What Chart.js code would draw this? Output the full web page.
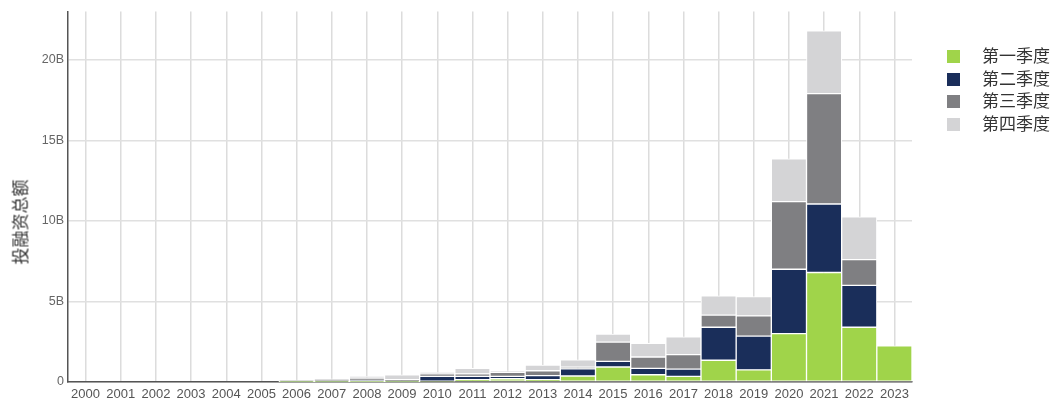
<!DOCTYPE html>
<html>
<head>
    <meta charset="utf-8" />
    <title>投融资总额</title>
    <style>
        body { margin: 0; background: #fff; font-family: "Liberation Sans", Arial, sans-serif; }
        #wrap { position: relative; width: 1053px; height: 403px; }
        #legend { position: absolute; left: 947px; top: 44px; font-family: "Noto Sans CJK SC", sans-serif; font-size: 17px; color: #333; }
        #legend div { height: 22.5px; line-height: 22.5px; white-space: nowrap; }
        #legend span { display: inline-block; width: 13px; height: 13px; margin-right: 22px; vertical-align: -1px; }
        #ytitle { position: absolute; left: 19px; top: 222px; transform: translate(-50%, -50%) rotate(-90deg);
            font-family: "Noto Sans CJK SC", sans-serif; font-size: 17px; color: #333; white-space: nowrap; }
    </style>
</head>
<body>
    <div id="wrap">
        <canvas id="chart" width="1053" height="403"></canvas>
        <div id="ytitle">投融资总额</div>
        <div id="legend"></div>
    </div>

    <script src="https://cdn.jsdelivr.net/npm/chart.js"></script>
    <script type="text/javascript">
        // valores en miles de millones (B)
        var years = ['2000', '2001', '2002', '2003', '2004', '2005', '2006', '2007', '2008', '2009', '2010', '2011',
            '2012', '2013', '2014', '2015', '2016', '2017', '2018', '2019', '2020', '2021', '2022', '2023'];
        var q1 = [0, 0, 0, 0, 0, 0, 0.01, 0.02, 0.02, 0.02, 0.05, 0.15, 0.2, 0.15, 0.37, 0.93, 0.45, 0.35, 1.35, 0.75, 3.0, 6.8, 3.4, 2.25];
        var q2 = [0, 0, 0, 0, 0, 0, 0.02, 0.03, 0.08, 0.03, 0.3, 0.2, 0.15, 0.25, 0.45, 0.35, 0.4, 0.45, 2.05, 2.1, 4.0, 4.25, 2.6, 0];
        var q3 = [0, 0, 0, 0, 0, 0, 0.04, 0.05, 0.15, 0.1, 0.15, 0.15, 0.25, 0.3, 0.1, 1.2, 0.7, 0.9, 0.75, 1.25, 4.2, 6.85, 1.6, 0];
        var q4 = [0, 0, 0, 0, 0, 0, 0.05, 0.1, 0.1, 0.3, 0.1, 0.35, 0.1, 0.35, 0.45, 0.5, 0.85, 1.1, 1.2, 1.2, 2.65, 3.9, 2.65, 0];
        var seriesNames = ['第一季度', '第二季度', '第三季度', '第四季度'];
        var seriesColors = ['#a0d44a', '#1a2e5a', '#7f7f82', '#d4d4d6'];
        var yTicks = [0, 5, 10, 15, 20];

        var seriesData = [q1, q2, q3, q4];
        var datasets = seriesData.map(function (d, i) {
            return {
                label: seriesNames[i],
                data: d,
                backgroundColor: seriesColors[i],
                borderColor: '#ffffff',
                borderWidth: 1,
                borderSkipped: false,
                categoryPercentage: 1.0,
                barPercentage: 1.0
            };
        });

        // leyenda en HTML
        var legend = document.getElementById('legend');
        seriesNames.forEach(function (name, i) {
            var row = document.createElement('div');
            var box = document.createElement('span');
            box.style.background = seriesColors[i];
            row.appendChild(box);
            row.appendChild(document.createTextNode(name));
            legend.appendChild(row);
        });

        var ctx = document.getElementById('chart').getContext('2d');
        var myChart = new Chart(ctx, {
            type: 'bar',
            data: { labels: years, datasets: datasets },
            options: {
                responsive: false,
                animation: false,
                layout: { padding: { left: 0, right: 141, top: 0, bottom: 0 } },
                plugins: { legend: { display: false }, tooltip: { enabled: false } },
                scales: {
                    x: {
                        stacked: true,
                        afterFit: function (s) { s.height = 21; },
                        grid: { offset: false, color: '#dcdcdc', lineWidth: 1.5, drawTicks: false },
                        border: { color: '#555', width: 1.5 },
                        ticks: { color: '#555', font: { size: 13, family: 'Liberation Sans' }, padding: 5, maxRotation: 0, autoSkip: false }
                    },
                    y: {
                        stacked: true,
                        min: 0,
                        max: 23,
                        afterFit: function (s) { s.width = 68; },
                        afterBuildTicks: function (s) {
                            s.ticks = yTicks.map(function (v) { return { value: v }; });
                        },
                        grid: { color: '#e0e0e0', lineWidth: 1.5, drawTicks: false },
                        border: { color: '#555', width: 1.5 },
                        ticks: {
                            color: '#666', padding: 4, font: { size: 12.5, family: 'Liberation Sans' },
                            callback: function (v) { return v === 0 ? '0' : v + 'B'; }
                        }
                    }
                }
            }
        });
    </script>
</body>
</html>
